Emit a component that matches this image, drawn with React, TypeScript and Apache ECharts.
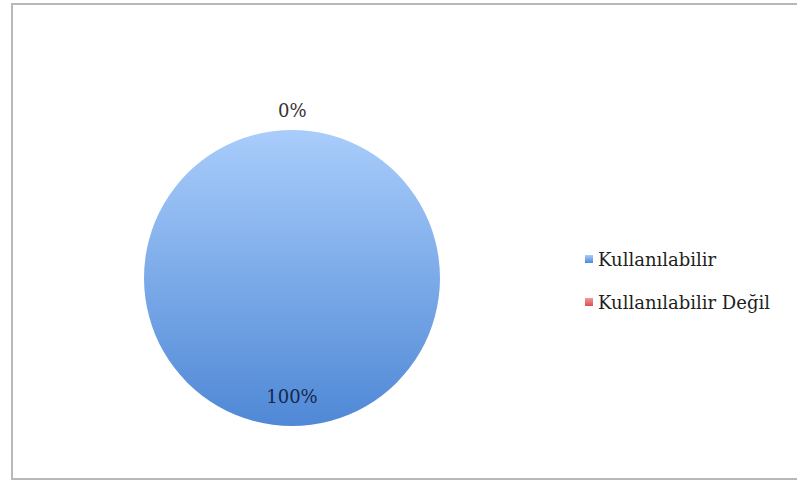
import React, { useEffect, useRef } from "react";
import * as echarts from "echarts";

const categories = ["Kullanılabilir", "Kullanılabilir Değil"];
const values = [100, 0];
const percentLabels = ["100%", "0%"];

export default function App() {
  const ref = useRef<HTMLDivElement>(null);
  useEffect(() => {
    if (!ref.current) return;
    const chart = echarts.init(ref.current, undefined, { renderer: "svg" });
    const font = "DejaVu Serif";
    const blue = new echarts.graphic.LinearGradient(0, 0, 0, 1, [
      { offset: 0, color: "#a9cdfb" },
      { offset: 1, color: "#4f88d6" },
    ]);
    const red = new echarts.graphic.LinearGradient(0, 0, 0, 1, [
      { offset: 0, color: "#f29a9a" },
      { offset: 1, color: "#d94f4f" },
    ]);
    const colors = [blue, red];
    chart.setOption({
      animation: false,
      backgroundColor: "#ffffff",
      graphic: [
        {
          type: "rect",
          shape: { x: 12, y: 4, width: 800, height: 475 },
          style: { fill: "none", stroke: "#b8b8b8", lineWidth: 2 },
          silent: true,
        },
      ],
      legend: {
        orient: "vertical",
        left: 580,
        top: 245,
        itemWidth: 8,
        itemHeight: 8,
        itemGap: 25,
        icon: "rect",
        textStyle: { fontFamily: font, fontSize: 18, color: "#1e1e1e" },
        data: categories,
      },
      series: [
        {
          type: "pie",
          center: [292, 278],
          radius: 148,
          startAngle: 90,
          clockwise: true,
          minShowLabelAngle: 0,
          avoidLabelOverlap: false,
          data: categories.map((name, i) => {
            const inside = i === 0;
            return {
              name,
              value: values[i],
              itemStyle: { color: colors[i] },
              label: inside
                ? {
                    show: true,
                    position: "inside",
                    formatter: percentLabels[i],
                    offset: [0, 41],
                    fontFamily: font,
                    fontSize: 18,
                    color: "#14284d",
                  }
                : {
                    show: true,
                    position: "outside",
                    formatter: percentLabels[i],
                    offset: [-19, 0],
                    fontFamily: font,
                    fontSize: 18,
                    color: "#333333",
                  },
              labelLine: { show: false, length: 20, length2: 0 },
            };
          }),
        },
      ],
    });
    return () => chart.dispose();
  }, []);
  return (
    <div
      ref={ref}
      style={{ position: "fixed", left: 0, top: 0, width: 797, height: 482 }}
    />
  );
}
